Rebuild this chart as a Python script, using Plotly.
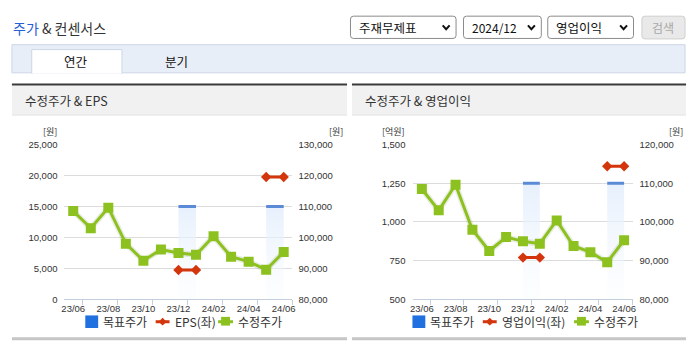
import plotly.graph_objects as go

# ---- data -------------------------------------------------------------
months = ["23/06", "23/07", "23/08", "23/09", "23/10", "23/11", "23/12",
          "24/01", "24/02", "24/03", "24/04", "24/05", "24/06"]
tick_labels = ["23/06", "23/08", "23/10", "23/12", "24/02", "24/04", "24/06"]

# adjusted share price (원), monthly
adj_price = [108500, 103000, 109600, 98000, 92500, 96100, 95000,
             94400, 100400, 93800, 92200, 89600, 95300]

# consensus segments: each starts at a month and spans to the next one
cons_start = ["23/12", "24/05"]
target_price = [110000, 110000]      # 목표주가 (원)
eps_values = [4760, 19750]           # EPS (원)
op_income = [770, 1360]              # 영업이익 (억원)

# axis ranges
price_range_l = [80000, 130000]
eps_range = [0, 25000]
price_range_r = [80000, 120000]
op_range = [500, 1500]

# ---- page geometry helpers -----------------------------------------------
W, H = 695, 349


def px(x):
    return x / W


def py(y):
    return 1 - y / H


GREEN = "#8cc11f"
RED = "#d3360d"
BLUE_LINE = "#5b8bd6"
BLUE_KEY = "#2170e0"
KR = "Noto Sans CJK KR"
NUM = "Liberation Sans"

xs = list(range(len(months)))
seg_idx = [months.index(s) for s in cons_start]

fig = go.Figure()


def add_chart(xaxis, price_axis, left_axis, left_vals, price_base, left_name):
    # target price: soft gradient column plus a solid top edge
    for i, v in zip(seg_idx, target_price):
        fig.add_trace(go.Scatter(
            x=[i, i + 1, i + 1, i, i], y=[price_base, price_base, v, v, price_base],
            mode="lines", line=dict(width=0), fill="toself",
            fillgradient=dict(type="vertical", colorscale=[
                [0, "rgba(246,250,255,0.25)"], [1, "rgba(226,237,252,0.85)"]]),
            xaxis=xaxis, yaxis=price_axis, showlegend=False, hoverinfo="skip"))
        fig.add_trace(go.Scatter(
            x=[i, i + 1], y=[v, v], mode="lines",
            line=dict(color=BLUE_LINE, width=3),
            xaxis=xaxis, yaxis=price_axis, showlegend=False, name="목표주가"))
    # adjusted price line with a faint shadow
    fig.add_trace(go.Scatter(
        x=xs, y=adj_price, mode="lines",
        line=dict(color="rgba(60,80,0,0.10)", width=6),
        xaxis=xaxis, yaxis=price_axis, showlegend=False, hoverinfo="skip"))
    fig.add_trace(go.Scatter(
        x=xs, y=adj_price, mode="lines+markers", name="수정주가",
        line=dict(color=GREEN, width=3),
        marker=dict(symbol="square", size=10, color=GREEN),
        xaxis=xaxis, yaxis=price_axis, showlegend=False))
    # consensus (left axis) segments
    sx, sy = [], []
    for i, v in zip(seg_idx, left_vals):
        sx += [i, i + 1, None]
        sy += [v, v, None]
    fig.add_trace(go.Scatter(
        x=sx, y=sy, mode="lines+markers", name=left_name,
        line=dict(color=RED, width=3),
        marker=dict(symbol="diamond", size=8, color=RED),
        xaxis=xaxis, yaxis=left_axis, showlegend=False))


add_chart("x", "y", "y2", eps_values, price_range_l[0], "EPS(좌)")
add_chart("x2", "y3", "y4", op_income, price_range_r[0], "영업이익(좌)")

tickfont = dict(family=NUM, size=9.5, color="#333")
ydom = [py(303), py(143)]


def xaxis_cfg(dom):
    return dict(
        domain=dom, range=[-0.5, len(months) - 0.5],
        tickmode="array", tickvals=[months.index(t) for t in tick_labels],
        ticktext=tick_labels, ticks="", tickfont=tickfont,
        showgrid=False, zeroline=False, showline=True,
        linecolor="#c3cfdd", linewidth=1, fixedrange=True,
        minor=dict(tick0=0.5, dtick=2, ticks="outside", ticklen=5,
                   tickcolor="#c3cfdd", showgrid=False),
    )


fig.update_layout(
    width=W, height=H, margin=dict(l=0, r=0, t=0, b=0),
    paper_bgcolor="white", plot_bgcolor="rgba(0,0,0,0)",
    showlegend=False,
    xaxis=dict(anchor="y", **xaxis_cfg([px(62), px(292)])),
    xaxis2=dict(anchor="y3", **xaxis_cfg([px(414), px(635)])),
    yaxis=dict(domain=ydom, anchor="x", side="right", range=price_range_l,
               dtick=10000, tickformat=",", showgrid=True, gridcolor="#dcdcdc",
               zeroline=False, tickfont=tickfont, ticks="", ticklabelstandoff=5),
    yaxis2=dict(overlaying="y", anchor="x", side="left", range=eps_range,
                dtick=5000, tickformat=",", showgrid=False, zeroline=False,
                tickfont=tickfont, ticks="", ticklabelstandoff=6),
    yaxis3=dict(domain=ydom, anchor="x2", side="right", range=price_range_r,
                dtick=10000, tickformat=",", showgrid=True, gridcolor="#dcdcdc",
                zeroline=False, tickfont=tickfont, ticks="", ticklabelstandoff=6),
    yaxis4=dict(overlaying="y3", anchor="x2", side="left", range=op_range,
                dtick=250, tickformat=",", showgrid=False, zeroline=False,
                tickfont=tickfont, ticks="", ticklabelstandoff=7),
)

shapes = []
annots = []


def rect(x0, y0, x1, y1, fill, line_color=None, lw=1):
    shapes.append(dict(type="rect", xref="paper", yref="paper",
                       x0=px(x0), x1=px(x1), y0=py(y1), y1=py(y0),
                       fillcolor=fill, layer="below",
                       line=dict(width=lw if line_color else 0,
                                 color=line_color or "rgba(0,0,0,0)")))


def rrect(x0, y0, x1, y1, r, fill, line_color):
    p = (f"M {px(x0 + r)},{py(y0)} L {px(x1 - r)},{py(y0)} "
         f"Q {px(x1)},{py(y0)} {px(x1)},{py(y0 + r)} "
         f"L {px(x1)},{py(y1 - r)} Q {px(x1)},{py(y1)} {px(x1 - r)},{py(y1)} "
         f"L {px(x0 + r)},{py(y1)} Q {px(x0)},{py(y1)} {px(x0)},{py(y1 - r)} "
         f"L {px(x0)},{py(y0 + r)} Q {px(x0)},{py(y0)} {px(x0 + r)},{py(y0)} Z")
    shapes.append(dict(type="path", xref="paper", yref="paper", path=p,
                       fillcolor=fill, line=dict(color=line_color, width=1)))


def chevron(cx, cy):
    p = f"M {px(cx - 3.5)},{py(cy - 2)} L {px(cx)},{py(cy + 2)} L {px(cx + 3.5)},{py(cy - 2)}"
    shapes.append(dict(type="path", xref="paper", yref="paper", path=p,
                       line=dict(color="#111", width=2)))


def text(x, y, s, size=12, color="#222", anchor="left", family=KR):
    annots.append(dict(x=px(x), y=py(y), xref="paper", yref="paper", text=s,
                       showarrow=False, xanchor=anchor, yanchor="middle",
                       font=dict(family=family, size=size, color=color)))


# ---- header ------------------------------------------------------------
text(8, 23, "<span style='color:#2560d6'>주가</span> &amp; 컨센서스", size=14, color="#333")

rrect(350.5, 10.5, 457, 33.5, 3, "white", "#8a8a8a")
text(357, 22, "주재무제표", size=12.5, color="#111")
chevron(447, 22)
rrect(464.5, 10.5, 543, 33.5, 3, "white", "#8a8a8a")
text(471, 22, "2024/12", size=12, color="#111")
chevron(533, 22)
rrect(549.5, 10.5, 636, 33.5, 3, "white", "#8a8a8a")
text(556, 22, "영업이익", size=12.5, color="#111")
chevron(626, 22)
rrect(644.5, 10.5, 688, 34, 3, "#e9e9e9", "#cfcfcf")
text(666, 22, "검색", size=12, color="#a8a8a8", anchor="center")

# tab strip
rect(9, 40, 688, 69, "#e8eef8", "#ccd6e5")
rect(29, 45, 120, 69.5, "white", "#ccd6e5")
rect(29.6, 68, 119.4, 70, "white")
text(74, 57, "연간", size=12.5, color="#111", anchor="center")
text(175, 57, "분기", size=12.5, color="#111", anchor="center")

# ---- panels ------------------------------------------------------------
for (x0, x1, title) in [(9, 347, "수정주가 &amp; EPS"), (352, 689, "수정주가 &amp; 영업이익")]:
    rect(x0, 82, x1, 112, "#f1f1f1")
    rect(x0, 80, x1, 82, "#3a3a3a")
    rect(x0, 112, x1, 113, "#dedede")
    rect(x0, 342, x1, 345, "#c6c6c6")
    text(x0 + 11, 97.5, title, size=12.5, color="#333")

# unit labels
unit_font = 9
text(47, 129.5, "[원]", size=unit_font, color="#333", anchor="center")
text(336, 129.5, "[원]", size=unit_font, color="#333", anchor="center")
text(394, 129.5, "[억원]", size=unit_font, color="#333", anchor="center")
text(679, 129.5, "[원]", size=unit_font, color="#333", anchor="center")


# ---- legends -------------------------------------------------------------
def legend(x_blue, x_red, x_green, red_label, y=326):
    rect(x_blue, y - 6.5, x_blue + 13, y + 6.5, BLUE_KEY)
    text(x_blue + 16, y, "목표주가", size=12, color="#333")
    shapes.append(dict(type="line", xref="paper", yref="paper",
                       x0=px(x_red), x1=px(x_red + 14), y0=py(y), y1=py(y),
                       line=dict(color=RED, width=3)))
    d = 4
    cx = x_red + 7
    shapes.append(dict(type="path", xref="paper", yref="paper",
                       path=f"M {px(cx)},{py(y - d)} L {px(cx + d)},{py(y)} L {px(cx)},{py(y + d)} L {px(cx - d)},{py(y)} Z",
                       fillcolor=RED, line=dict(width=0)))
    text(x_red + 17, y, red_label, size=12, color="#333")
    shapes.append(dict(type="line", xref="paper", yref="paper",
                       x0=px(x_green), x1=px(x_green + 15), y0=py(y), y1=py(y),
                       line=dict(color=GREEN, width=3)))
    rect(x_green + 3, y - 5, x_green + 12, y + 4, GREEN)
    text(x_green + 18, y, "수정주가", size=12, color="#333")


legend(83, 154, 217, "EPS(좌)")
legend(413, 484, 576, "영업이익(좌)")

fig.update_layout(shapes=shapes, annotations=annots)
fig.write_html("out.html")
